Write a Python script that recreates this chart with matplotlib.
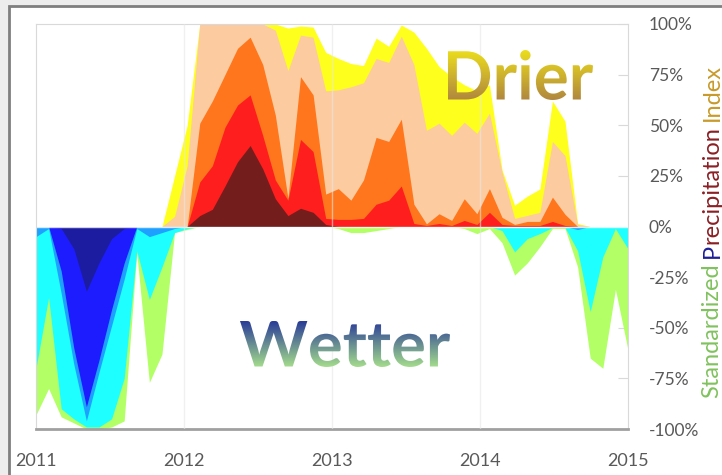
import matplotlib
matplotlib.use("Agg")
import matplotlib.pyplot as plt
import numpy as np
from matplotlib.patches import Rectangle, PathPatch
from matplotlib.textpath import TextPath
from matplotlib.font_manager import FontProperties
from matplotlib.transforms import Affine2D
from matplotlib.colors import to_rgb

plt.rcParams['font.family'] = ['Lato', 'DejaVu Sans']

# 48 monthly points, Jan 2011 .. end 2014 (percent of area)
years = ["2011", "2012", "2013", "2014", "2015"]
pct_ticks = [100, 75, 50, 25, 0, -25, -50, -75, -100]

# drier side, each class includes the more severe ones
dry_d0 = [0, 0, 0, 0, 0, 0, 0, 0, 0, 0, 0, 25,
          50, 100, 100, 100, 100, 100, 100, 100, 98, 99, 98.5, 86,
          83, 80.5, 79.5, 93, 89, 99.5, 96, 88, 79, 74, 70, 67,
          70, 28, 10.5, 15, 18.5, 62, 52, 1.5, 0, 0, 0, 0]
dry_d1 = [0, 0, 0, 0, 0, 0, 0, 0, 0, 0, 0, 5,
          30, 100, 100, 100, 100, 100, 100, 97, 77, 94.5, 93.5, 67,
          67.5, 69, 71, 83, 81, 94, 80, 47.5, 51, 45, 51.5, 46,
          56, 27, 4, 5.5, 7, 42, 35, 1, 0, 0, 0, 0]
dry_d2 = [0, 0, 0, 0, 0, 0, 0, 0, 0, 0, 0, 0,
          0, 51, 62, 75, 88, 93.5, 80, 55, 14, 74, 65, 16,
          18.7, 13, 23, 44, 42, 53, 11, 1.3, 6.3, 3, 13.7, 6.3,
          18.7, 4.5, 1, 2.5, 2.5, 14.5, 6, 0, 0, 0, 0, 0]
dry_d3 = [0, 0, 0, 0, 0, 0, 0, 0, 0, 0, 0, 0,
          0, 22, 30, 49, 60, 65, 45, 23, 13, 43, 37, 4,
          3.5, 3.5, 4, 11, 13, 20, 1.5, 0.5, 1.5, 0.5, 3, 1,
          7, 1, 0.5, 0.5, 0.5, 2.5, 0.5, 0, 0, 0, 0, 0]
dry_d4 = [0, 0, 0, 0, 0, 0, 0, 0, 0, 0, 0, 0,
          0, 5.4, 8.5, 20, 32, 40, 28.5, 13.7, 5.4, 9, 7, 1,
          0, 0, 0, 0, 0, 0, 0, 0, 0, 0, 0, 0,
          0, 0, 0, 0, 0, 0, 0, 0, 0, 0, 0, 0]

# wetter side
wet_w0 = [-93, -80, -94, -97, -100, -100, -99, -96, -13, -77, -63, -3,
          -1.5, 0, 0, 0, 0, 0, 0, 0, 0, 0, 0, 0,
          -1, -3, -3, -2, -1, 0, 0, 0, 0, 0, -1, -3.5,
          -1, -8, -24, -18, -10, -1, -1, -20, -65, -70, -31, -61]
wet_w1 = [-70, -35, -90, -95, -99, -99, -95, -75, -12, -36, -20, -3,
          -1, 0, 0, 0, 0, 0, 0, 0, 0, 0, 0, 0,
          0, 0, 0, 0, 0, 0, 0, 0, 0, 0, 0, 0,
          0, -2, -12.5, -6, -3.5, -0.5, -0.5, -12, -42, -15, -1, -11]
wet_w2 = [-5, -1, -33, -68, -96, -72, -49, -26, -1, -5, -3, -1,
          0, 0, 0, 0, 0, 0, 0, 0, 0, 0, 0, 0,
          0, 0, 0, 0, 0, 0, 0, 0, 0, 0, 0, 0,
          0, 0, 0, 0, 0, 0, 0, -1.5, 0, 0, 0, 0]
wet_w3 = [0, 0, -22, -60, -89, -66, -41, -18, 0, 0, 0, 0,
          0, 0, 0, 0, 0, 0, 0, 0, 0, 0, 0, 0,
          0, 0, 0, 0, 0, 0, 0, 0, 0, 0, 0, 0,
          0, 0, 0, 0, 0, 0, 0, 0, 0, 0, 0, 0]
wet_w4 = [0, 0, -1, -11, -32, -18, -6, -1, 0, 0, 0, 0,
          0, 0, 0, 0, 0, 0, 0, 0, 0, 0, 0, 0,
          0, 0, 0, 0, 0, 0, 0, 0, 0, 0, 0, 0,
          0, 0, 0, 0, 0, 0, 0, 0, 0, 0, 0, 0]

dry_colors = ['#FFFF1E', '#FCCBA0', '#FF761C', '#FF1E1E', '#731D1D']
wet_colors = ['#B2FF66', '#1EFFFF', '#1EA0FF', '#1C1CFF', '#1C1CA0']


def gradient_text(ax, text, box, top_color, bottom_color):
    """Draw text filled with a vertical gradient, fitted into box (x0, ytop, x1, ybot) in pixels."""
    x0, y_top, x1, y_bot = box
    tp = TextPath((0, 0), text, size=50, prop=FontProperties(family='Lato', weight='bold'))
    ext = tp.get_extents()
    tr = (Affine2D().translate(-ext.x0, -ext.y0)
          .scale((x1 - x0) / ext.width, -(y_bot - y_top) / ext.height)
          .translate(x0, y_bot))
    patch = PathPatch(tr.transform_path(tp), facecolor='none', edgecolor='none',
                      transform=ax.transData)
    ax.add_patch(patch)
    g = np.linspace(0, 1, 256)[:, None, None]
    img = (1 - g) * np.array(to_rgb(top_color)) + g * np.array(to_rgb(bottom_color))
    im = ax.imshow(img, extent=(x0, x1, y_bot, y_top), origin='upper',
                   aspect='auto', interpolation='bilinear')
    im.set_clip_path(patch)


W, H = 722, 475
fig = plt.figure(figsize=(W / 100, H / 100), dpi=100)
fig.patch.set_facecolor('#EDEDED')
fig.add_artist(Rectangle((8.5 / W, -0.1), 1.1, (H - 5.5) / H + 0.1, transform=fig.transFigure,
                         facecolor='white', edgecolor='#7F7F7F', lw=2, zorder=-10))

ax = fig.add_axes([36 / W, 46 / H, 592 / W, 405 / H])
x = np.arange(len(dry_d0))

for vals, col in zip([dry_d0, dry_d1, dry_d2, dry_d3, dry_d4], dry_colors):
    ax.fill_between(x, 0, vals, color=col, lw=0, zorder=2)
for vals, col in zip([wet_w0, wet_w1, wet_w2, wet_w3, wet_w4], wet_colors):
    ax.fill_between(x, 0, vals, color=col, lw=0, zorder=2)

ax.axhline(0, color='white', lw=1, alpha=0.8, zorder=2.5)

year_pos = np.linspace(0, len(x) - 1, len(years))
for xp in year_pos[1:-1]:
    ax.axvline(xp, color='#E6E6E6', lw=1, alpha=0.6, zorder=3)

ax.set_xlim(0, len(x) - 1)
ax.set_ylim(-100, 100)
ax.set_xticks(year_pos)
ax.set_xticklabels(years)
ax.set_yticks(pct_ticks)
ax.set_yticklabels([f"{v}%" for v in pct_ticks])
ax.tick_params(axis='x', length=0, pad=17, labelsize=13, labelcolor='#595959')
ax.tick_params(axis='y', direction='in', length=7, color='#D9D9D9', labelcolor='#595959',
               labelsize=12.5, pad=15, left=False, labelleft=False, right=True, labelright=True)
for side in ['top', 'left', 'right']:
    ax.spines[side].set_color('#D9D9D9')
ax.spines['bottom'].set_color('#A0A0A0')
ax.spines['bottom'].set_linewidth(2)

# overlay in pixel coordinates for the word art
ov = fig.add_axes([0, 0, 1, 1], zorder=5)
ov.set_autoscale_on(False)
ov.axis('off')
gradient_text(ov, "Drier", (448, 50, 593, 100), '#ECDE1C', '#B0873E')
gradient_text(ov, "Wetter", (240, 321, 450, 367), '#2A3C98', '#A4DC8C')
ov.set_xlim(0, W)
ov.set_ylim(H, 0)

# multi-coloured axis title on the right, built bottom to top
renderer = fig.canvas.get_renderer()
segments = [("Standardized", '#80C25E', 0), ("P", '#1F1F96', 5), ("recipitation", '#8A1F24', 0),
            ("Index", '#C89A2A', 5)]
ypix = 398  # pixels from the top of the picture
for txt, col, gap in segments:
    ypix -= gap
    t = fig.text(712 / W, (H - ypix) / H, txt, rotation=90, rotation_mode='anchor',
                 ha='left', va='center', fontsize=17, color=col)
    ext = t.get_window_extent(renderer)
    ypix = H - ext.y1

fig.savefig("out.png", dpi=100, facecolor=fig.get_facecolor())
